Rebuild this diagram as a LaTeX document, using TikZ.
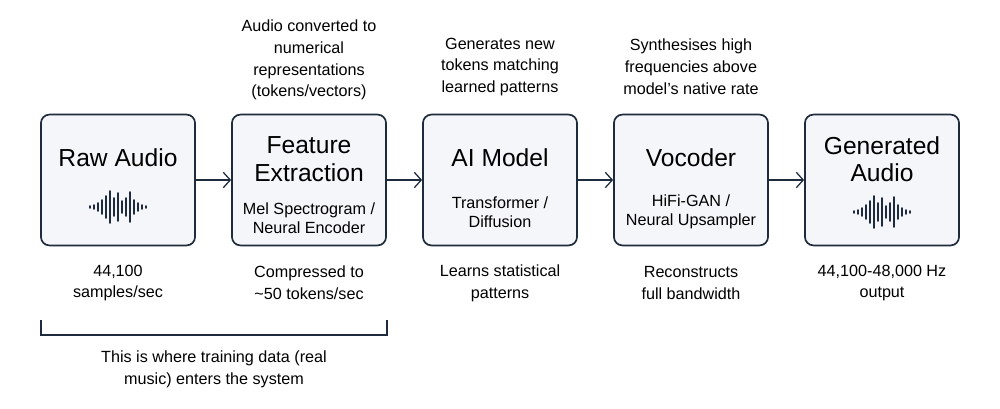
\documentclass[tikz,border=0pt]{standalone}
\usepackage{fontspec}
\usetikzlibrary{arrows.meta}
\setmainfont{Liberation Sans}
\definecolor{navy}{HTML}{1E2B3C}
\definecolor{boxfill}{HTML}{F4F6F9}
\tikzset{
  stage/.style={draw=navy,line width=1.2pt,fill=boxfill,rounded corners=6pt,minimum width=3.85cm,minimum height=3.27cm},
  title/.style={font=\fontsize{17.5}{19.5}\selectfont,text=black,align=center},
  sub/.style={font=\fontsize{11.5}{13.5}\selectfont,text=black,align=center},
  note/.style={font=\fontsize{11.5}{15.5}\selectfont,text=black,align=center},
  flow/.style={-{Straight Barb[length=5pt,width=11pt]},navy,line width=0.9pt},
}
\newcommand{\wave}[2]{%
  \foreach \h [count=\i] in {1,2,4,7,11,16,9,14,6,9,15,7,4,2,1}
    \draw[navy,line width=1.1pt,line cap=round] (#1-32+\i*4,#2-\h) -- (#1-32+\i*4,#2+\h);}
\begin{document}
\begin{tikzpicture}[x=0.025cm,y=-0.025cm]
\useasboundingbox (0,0) rectangle (1000,408);
% boxes
\node[stage] (raw) at (118,180) {};
\node[stage] (feat) at (309,180) {};
\node[stage] (model) at (500,180) {};
\node[stage] (voc) at (691,180) {};
\node[stage] (gen) at (882,180) {};
% box texts
\node[title] at (118,158) {Raw Audio};
\wave{118}{207}
\node[title] (feattitle) at (309,159) {Feature\\Extraction};
\node[sub] at (309,218) {Mel Spectrogram /\\Neural Encoder};
\node[title] at (500,158) {AI Model};
\node[sub] at (500,212) {Transformer /\\Diffusion};
\node[title] at (691,158) {Vocoder};
\node[sub] at (691,212) {HiFi-GAN /\\Neural Upsampler};
\node[title] at (882,159) {Generated\\Audio};
\wave{882}{212}
% arrows
\draw[flow] (raw) -- (feat);
\draw[flow] (feat) -- (model);
\draw[flow] (model) -- (voc);
\draw[flow] (voc) -- (gen);
% notes above
\node[note] at (309,60) {Audio converted to\\numerical\\representations\\(tokens/vectors)};
\node[note] at (500,67) {Generates new\\tokens matching\\learned patterns};
\node[note] at (691,67) {Synthesises high\\frequencies above\\model's native rate};
% notes below
\node[note] at (118,283) {44,100\\samples/sec};
\node[note] at (309,283) {Compressed to\\{\textasciitilde}50 tokens/sec};
\node[note] at (500,283) {Learns statistical\\patterns};
\node[note] at (691,283) {Reconstructs\\full bandwidth};
\node[note] at (882,283) {44,100-48,000 Hz\\output};
% bracket
\draw[navy,line width=0.9pt] (41,320) -- (41,335) -- (387,335) -- (387,320);
\node[note] at (214,369) {This is where training data (real\\music) enters the system};
\end{tikzpicture}
\end{document}
